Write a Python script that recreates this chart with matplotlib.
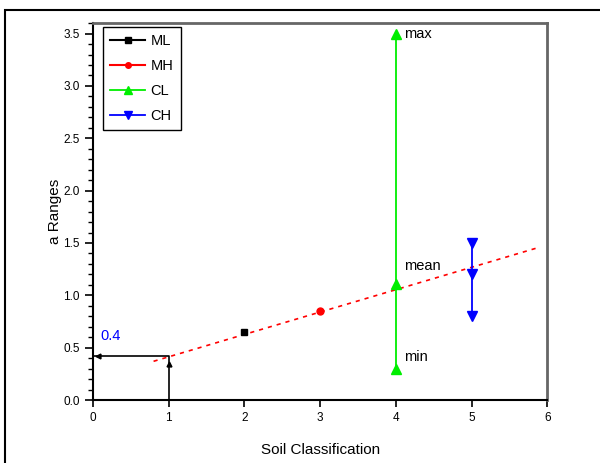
import matplotlib.pyplot as plt
from matplotlib.patches import Rectangle
from matplotlib.ticker import MultipleLocator

plt.rcParams["font.family"] = ["Liberation Sans", "DejaVu Sans"]

# series
ml_x = [2]
ml_y = [0.65]
mh_x = [3]
mh_y = [0.85]
cl_x = [4, 4, 4]
cl_y = [0.30, 1.11, 3.50]
ch_x = [5, 5, 5]
ch_y = [1.50, 1.20, 0.80]

# red dashed trend line
trend_x = [0.8, 5.9]
trend_y = [0.37, 1.46]

# reading guide for a = 0.4 at class 1
guide_x = [0.0, 1.0, 1.0]
guide_y = [0.42, 0.42, 0.0]

cl_labels = ["min", "mean", "max"]

fig = plt.figure(figsize=(6.0, 4.63), dpi=100)
ax = fig.add_axes([0.155, 0.136, 0.757, 0.814])

# outer frame around the figure
fig.patches.append(Rectangle((5 / 600, -0.1), 1.2, 1 - 10 / 463 + 0.1,
                             transform=fig.transFigure, fill=False,
                             edgecolor="black", linewidth=1.5))

ax.plot(trend_x, trend_y, color="red", linestyle=(0, (2.5, 3)), linewidth=1.2, zorder=2)
ax.plot(guide_x, guide_y, color="black", linewidth=1.2, zorder=3)
ax.plot([0.07], [0.42], marker="<", color="black", markersize=3.5, zorder=4)
ax.plot([1.0], [0.34], marker="^", color="black", markersize=3.5, zorder=4)

ax.plot(ml_x, ml_y, color="black", marker="s", markersize=5, linestyle="-", label="ML", zorder=4)
ax.plot(mh_x, mh_y, color="red", marker="o", markersize=5, linestyle="-", label="MH", zorder=4)
ax.plot(cl_x, cl_y, color="#00ee00", marker="^", markersize=7, linestyle="-", linewidth=1.3, label="CL", zorder=4)
ax.plot(ch_x, ch_y, color="blue", marker="v", markersize=7, linestyle="-", linewidth=1.3, label="CH", zorder=4)

for lab, yv in zip(cl_labels, cl_y):
    dy = {"min": 0.11, "mean": 0.17, "max": 0.0}[lab]
    ax.text(4.11, yv + dy, lab, fontsize=10.5, ha="left", va="center")

ax.text(0.1, 0.61, "0.4", color="blue", fontsize=10.5, ha="left", va="center")

ax.set_xlim(0, 6)
ax.set_ylim(0, 3.6)
ax.xaxis.set_major_locator(MultipleLocator(1))
ax.yaxis.set_major_locator(MultipleLocator(0.5))
ax.yaxis.set_minor_locator(MultipleLocator(0.1))
ax.yaxis.set_major_formatter(lambda v, p: f"{v:.1f}")
ax.tick_params(axis="both", direction="out", labelsize=8.5, width=1.2)
ax.tick_params(axis="y", which="major", length=6)
ax.tick_params(axis="y", which="minor", length=3.5, width=1)
ax.tick_params(axis="x", which="major", length=5)

for side in ["left", "bottom"]:
    ax.spines[side].set_linewidth(1.5)
    ax.spines[side].set_color("black")
for side in ["top", "right"]:
    ax.spines[side].set_linewidth(2.0)
    ax.spines[side].set_color("#666666")

ax.set_xlabel("Soil Classification", fontsize=11, labelpad=14)
ax.set_ylabel("a Ranges", fontsize=11, labelpad=1)

leg = ax.legend(loc="upper left", bbox_to_anchor=(0.022, 0.99), borderaxespad=0,
                numpoints=1, fontsize=10.5, fancybox=False, framealpha=1,
                handlelength=2.4, handletextpad=0.35, labelspacing=0.75,
                borderpad=0.5, markerscale=0.8)
leg.get_frame().set_edgecolor("black")
leg.get_frame().set_linewidth(1.0)

fig.savefig("out.png", dpi=100, facecolor="white")
